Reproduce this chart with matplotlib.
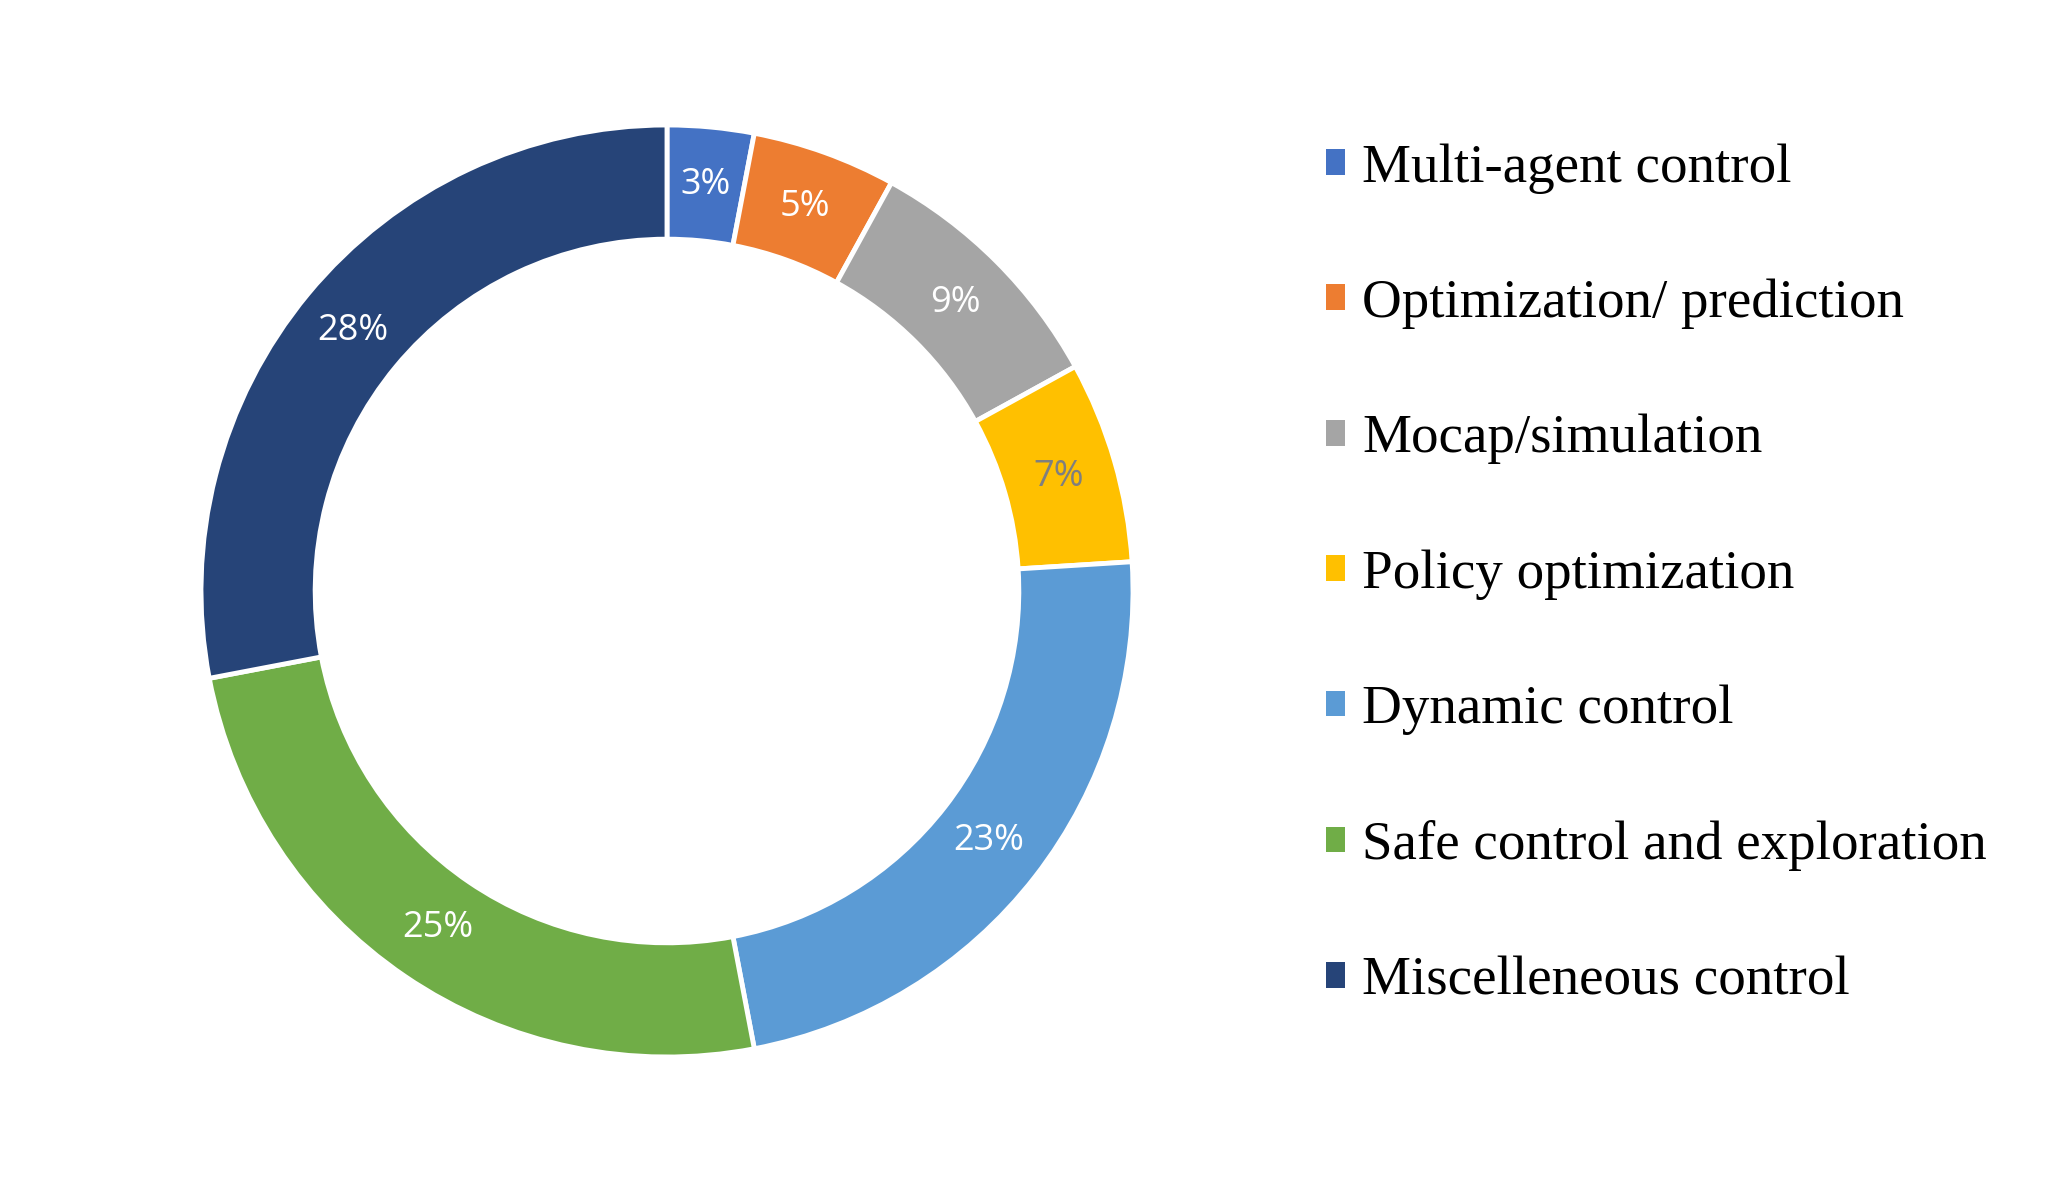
import matplotlib
matplotlib.use("Agg")
import matplotlib.pyplot as plt
from matplotlib.patches import Patch

# chart data
categories = ["Multi-agent control", "Optimization/ prediction", "Mocap/simulation",
              "Policy optimization", "Dynamic control", "Safe control and exploration",
              "Miscelleneous control"]
shares = [3, 5, 9, 7, 23, 25, 28]
colors = ["#4472C4", "#ED7D31", "#A5A5A5", "#FFC000", "#5B9BD5", "#70AD47", "#264478"]
label_colors = ["white", "white", "white", "#7F7F7F", "white", "white", "white"]

W, H = 2062, 1184
fig = plt.figure(figsize=(W / 100, H / 100), dpi=100)

# ring centre (from bottom) / radius in pixels
cx, cy, r = 667, 593, 466
ax = fig.add_axes([(cx - r) / W, (cy - r) / H, 2 * r / W, 2 * r / H])

wedges, _texts, autotexts = ax.pie(
    shares, colors=colors, startangle=90, counterclock=False,
    autopct="%d%%", pctdistance=0.875,
    wedgeprops=dict(width=0.245, edgecolor="white", linewidth=3.5),
    textprops=dict(fontsize=26, family=["Open Sans", "DejaVu Sans"]))
for t, c in zip(autotexts, label_colors):
    t.set_color(c)
ax.set_xlim(-1, 1)
ax.set_ylim(-1, 1)
ax.set_aspect("equal")

# plain square handles (the wedges carry a white edge)
handles = [Patch(facecolor=c, edgecolor="none") for c in colors]
fig.legend(handles, categories, loc="upper left",
           bbox_to_anchor=(1326 / W, 1 - 143 / H),
           frameon=False, handlelength=0.34, handleheight=0.34,
           handletextpad=0.32, labelspacing=1.545, borderaxespad=0, borderpad=0,
           prop=dict(family="Liberation Serif", size=39.6))

fig.savefig("out.png", dpi=100, facecolor="white")
